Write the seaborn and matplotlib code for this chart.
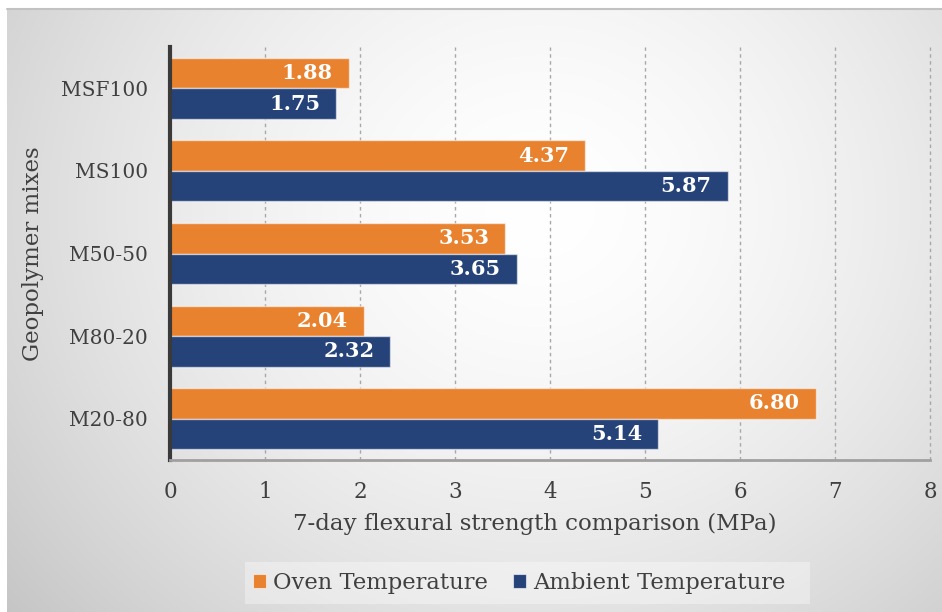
import numpy as np
import pandas as pd
import matplotlib
matplotlib.use("Agg")
import matplotlib.pyplot as plt
import seaborn as sns
from matplotlib.patches import Rectangle

mixes = ["MSF100", "MS100", "M50-50", "M80-20", "M20-80"]
oven = [1.88, 4.37, 3.53, 2.04, 6.80]
ambient = [1.75, 5.87, 3.65, 2.32, 5.14]
series = ["Oven Temperature", "Ambient Temperature"]
colors = ["#E8822F", "#254279"]
xticks = [0, 1, 2, 3, 4, 5, 6, 7, 8]

df = pd.DataFrame({
    "mix": mixes * 2,
    "value": oven + ambient,
    "series": [series[0]] * len(mixes) + [series[1]] * len(mixes),
})

sns.set_style("white")
plt.rcParams["font.family"] = ["DejaVu Serif"]
TXT = "#404040"

W, H = 942, 612
fig = plt.figure(figsize=(W / 100, H / 100), dpi=100)
fig.patch.set_facecolor("white")

# radial gradient background
bg = fig.add_axes([7 / W, 0, 1 - 7 / W, 1 - 9 / H], zorder=-10)
nx, ny = 470, 300
xx, yy = np.meshgrid(np.linspace(0, 1, nx), np.linspace(0, 1, ny))
cx, cy = 0.57, 0.33
d = np.sqrt(((xx - cx) / 0.57) ** 2 + ((yy - cy) / 0.80) ** 2)
d = np.clip(d / d.max(), 0, 1)
v = 1.0 - (1.0 - 0.775) * d ** 1.6
img = np.dstack([v, v, v])
bg.imshow(img, aspect="auto", extent=[0, 1, 1, 0], interpolation="bilinear")
bg.set_xlim(0, 1)
bg.set_ylim(1, 0)
bg.axis("off")
fig.add_artist(plt.Line2D([7 / W, 1], [1 - 9 / H, 1 - 9 / H], color="#c2c2c2", lw=1.5,
                          transform=fig.transFigure))

ax = fig.add_axes([170 / W, 1 - 460 / H, 760 / W, 413 / H])
ax.set_facecolor("none")
sns.barplot(data=df, y="mix", x="value", hue="series", hue_order=series,
            palette=colors, orient="h", width=0.74, ax=ax,
            edgecolor=(1, 1, 1, 0.55), linewidth=1.0, saturation=1, legend=False)

for cont in ax.containers:
    for bar in cont:
        w = bar.get_width()
        ax.annotate(f"{w:.2f}", xy=(w, bar.get_y() + bar.get_height() / 2),
                    xytext=(-11.5, 0), textcoords="offset points",
                    ha="right", va="center", color="white", fontsize=15,
                    fontweight="bold")

ax.set_xlim(0, 8)
ax.set_ylim(4.5, -0.5)
ax.set_xticks(xticks)
ax.set_xticklabels([str(t) for t in xticks])
ax.xaxis.grid(True, color="#a8a8a8", linestyle=(0, (2.5, 2.5)), linewidth=1.0)
ax.set_axisbelow(True)
for gl in ax.get_xgridlines():
    gl.set_clip_on(False)
ax.tick_params(axis="both", length=0, labelsize=14.5, labelcolor=TXT)
ax.tick_params(axis="x", labelsize=15.5, pad=15)
ax.tick_params(axis="y", pad=16)
for s in ["top", "right"]:
    ax.spines[s].set_visible(False)
ax.spines["left"].set_color("#3a3a3a")
ax.spines["left"].set_linewidth(3)
ax.spines["bottom"].set_color("#a0a0a0")
ax.spines["bottom"].set_linewidth(2)

ax.set_xlabel("7-day flexural strength comparison (MPa)", fontsize=16.5, color=TXT, labelpad=7)
ax.xaxis.label.set_x((535 - 170) / 760)
ax.set_ylabel("Geopolymer mixes", fontsize=16.5, color=TXT, labelpad=12)

# legend box
fig.add_artist(Rectangle((245 / W, 1 - 604 / H), 565 / W, 42 / H, transform=fig.transFigure,
                         facecolor="white", alpha=0.35, edgecolor="none"))
handles = [Rectangle((0, 0), 1, 1, facecolor=c, edgecolor=(1, 1, 1, 0.6), lw=0.8) for c in colors]
leg = fig.legend(handles, series, loc="center", bbox_to_anchor=(519 / W, 1 - 583 / H),
                 ncol=2, frameon=False, fontsize=16.3, handlelength=0.6, handleheight=0.6,
                 handletextpad=0.3, columnspacing=1.1, labelcolor=TXT)

fig.savefig("out.png", dpi=100)
